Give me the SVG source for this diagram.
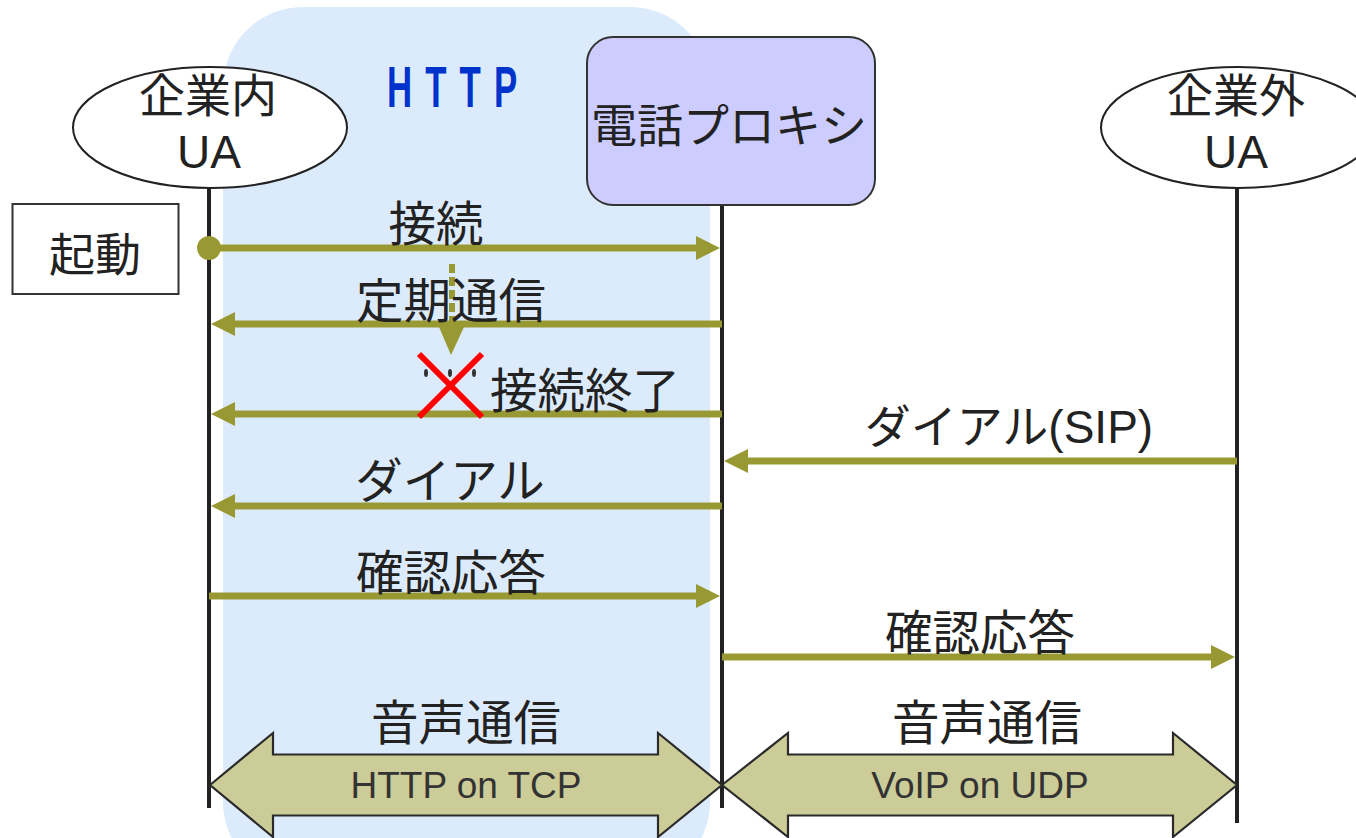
<svg xmlns="http://www.w3.org/2000/svg" width="1356" height="838" viewBox="0 0 1356 838">
  <defs>
    <style>
      .lbl { font-family: "Liberation Sans", "Noto Sans CJK JP", sans-serif; font-size: 46px; fill: #222; text-anchor: middle; }
      .msgtxt { font-size: 47.5px; }
      .small { font-family: "Liberation Sans", "Noto Sans CJK JP", sans-serif; font-size: 37px; fill: #333; text-anchor: middle; }
      .life { stroke: #222; stroke-width: 4; fill: none; }
      .msg { stroke: #999933; stroke-width: 7; fill: none; marker-end: url(#head); }
      .node { fill: #fff; stroke: #222; stroke-width: 2; }
      .block { fill: #cccc99; stroke: #2a2a2a; stroke-width: 2.2; stroke-linejoin: miter; }
    </style>
    <marker id="head" markerUnits="userSpaceOnUse" markerWidth="24" markerHeight="24" refX="4" refY="12" orient="auto">
      <path d="M0,0 L24,12 L0,24 z" fill="#999933"/>
    </marker>
  </defs>

  <rect width="1356" height="838" fill="#fff"/>

  <!-- HTTP region -->
  <g id="http-region">
    <rect x="223" y="7" width="487" height="875" rx="80" ry="80" fill="#dcebfc"/>
    <g transform="translate(387,107) scale(0.6,1)">
      <text x="0" y="0" textLength="217" lengthAdjust="spacing" font-family="Liberation Sans, sans-serif" font-weight="bold" font-size="58" fill="#0033cc">HTTP</text>
    </g>
  </g>

  <!-- lifelines -->
  <g id="lifelines">
    <line class="life" x1="209" y1="186" x2="209" y2="808"/>
    <line class="life" x1="722" y1="204" x2="722" y2="808"/>
    <line class="life" x1="1237" y1="186" x2="1237" y2="823"/>
  </g>

  <g id="ua-inner">
    <ellipse class="node" cx="210" cy="127.5" rx="137" ry="60.5"/>
    <text class="lbl" x="208" y="112">企業内</text>
    <text class="lbl" x="209" y="168">UA</text>
  </g>

  <g id="proxy">
    <rect x="587" y="37" width="288" height="168" rx="26" ry="26" fill="#ccccff" stroke="#333" stroke-width="2"/>
    <text class="lbl" x="729" y="142" font-size="45">電話プロキシ</text>
  </g>

  <g id="ua-outer">
    <ellipse class="node" cx="1238" cy="127.5" rx="137" ry="60.5"/>
    <text class="lbl" x="1236" y="112">企業外</text>
    <text class="lbl" x="1236" y="168">UA</text>
  </g>

  <g id="start">
    <rect x="12.5" y="204" width="166" height="90" fill="#fff" stroke="#333" stroke-width="2"/>
    <text class="lbl" x="95" y="271">起動</text>
  </g>

  <!-- messages -->
  <g id="connectors">
    <circle cx="209" cy="248" r="12" fill="#999933"/>
    <line class="msg" x1="209" y1="248" x2="700" y2="248"/>
    <line class="msg" x1="722" y1="324" x2="231" y2="324"/>
    <line class="msg" x1="722" y1="414" x2="231" y2="414"/>
    <line class="msg" x1="1237" y1="461" x2="744" y2="461"/>
    <line class="msg" x1="722" y1="506" x2="231" y2="506"/>
    <line class="msg" x1="209" y1="596" x2="700" y2="596"/>
    <line class="msg" x1="722" y1="657" x2="1215" y2="657"/>

    <!-- periodic poll marker -->
    <line x1="452" y1="264" x2="452" y2="322" stroke="#999933" stroke-width="6" stroke-dasharray="9 4"/>
    <polygon points="439,327 464,327 451,355" fill="#999933"/>

    <!-- block arrows for voice traffic -->
    <polygon class="block" points="210,785 273,733 273,754.5 658,754.5 658,733 722,785 658,837 658,815.5 273,815.5 273,837"/>
    <polygon class="block" points="722,785 788,733 788,754.5 1173,754.5 1173,733 1237,785 1173,837 1173,815.5 788,815.5 788,837"/>
  </g>

  <!-- labels -->
  <g id="labels">
    <text class="lbl msgtxt" x="436" y="241">接続</text>
    <text class="lbl msgtxt" x="451" y="318">定期通信</text>
    <text class="lbl msgtxt" x="585" y="408">接続終了</text>
    <text class="lbl" x="1009" y="443">ダイアル(SIP)</text>
    <text class="lbl msgtxt" x="450" y="498">ダイアル</text>
    <text class="lbl msgtxt" x="451" y="590">確認応答</text>
    <text class="lbl msgtxt" x="980" y="650">確認応答</text>
    <text class="lbl msgtxt" x="466" y="740">音声通信</text>
    <text class="lbl msgtxt" x="987" y="740">音声通信</text>
    <text class="small" x="466" y="798">HTTP on TCP</text>
    <text class="small" x="980" y="798">VoIP on UDP</text>
  </g>

  <!-- connection cut mark -->
  <g id="cut">
    <ellipse cx="426" cy="373" rx="2" ry="4" fill="#333"/>
    <ellipse cx="450" cy="373" rx="2" ry="4" fill="#333"/>
    <ellipse cx="474" cy="373" rx="2" ry="4" fill="#333"/>
    <line x1="419" y1="354" x2="482" y2="417" stroke="#ff0000" stroke-width="6"/>
    <line x1="482" y1="354" x2="419" y2="417" stroke="#ff0000" stroke-width="6"/>
  </g>
</svg>
